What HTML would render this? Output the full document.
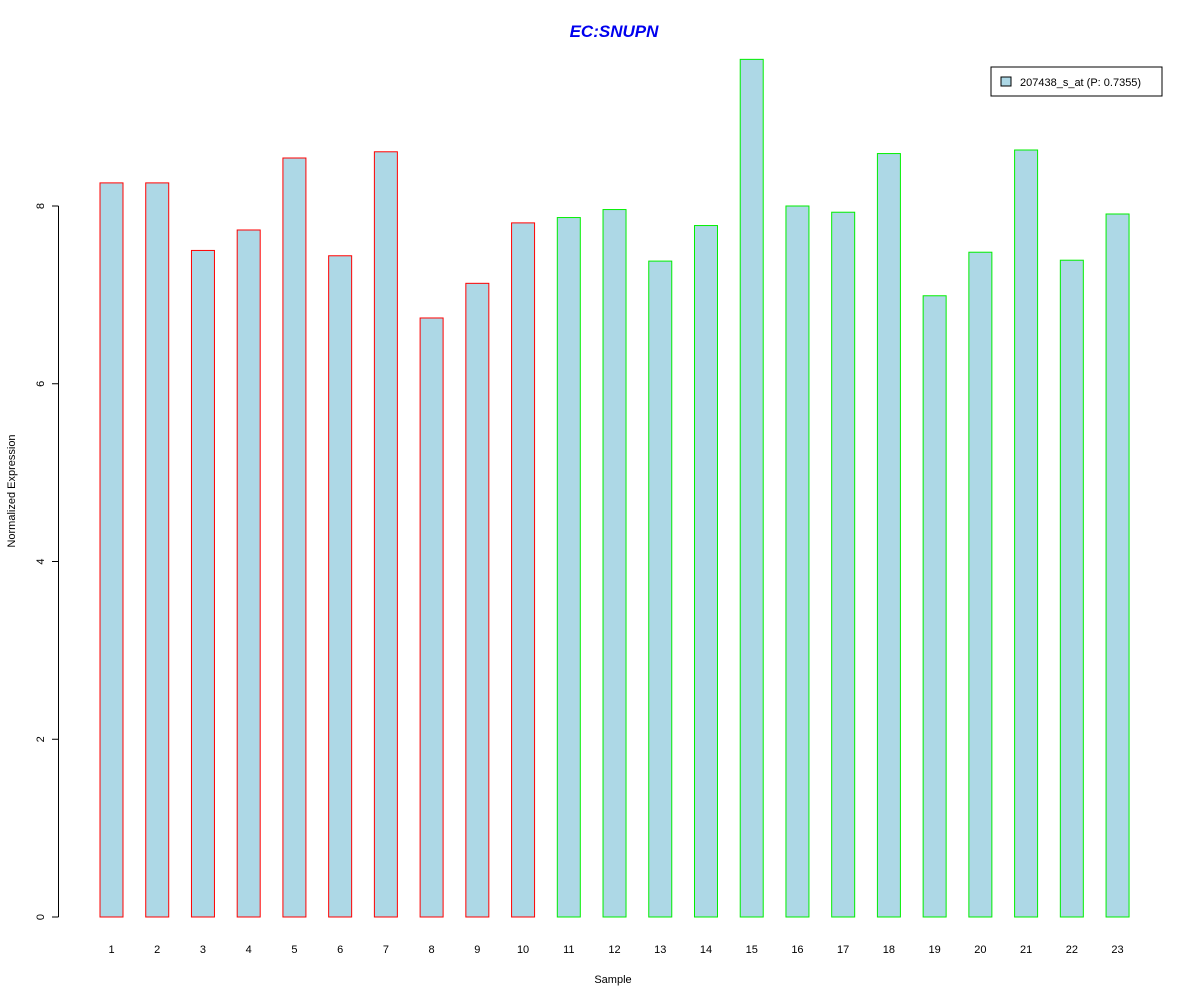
<!DOCTYPE html>
<html><head><meta charset="utf-8"><style>
body{margin:0;background:#fff;font-family:"Liberation Sans",Arial,sans-serif}
svg text{font-family:"Liberation Sans",Arial,sans-serif}
</style></head><body>
<svg id="chart" width="1200" height="1000" xmlns="http://www.w3.org/2000/svg">
<rect width="1200" height="1000" fill="#fff"/>
<text x="614" y="37" text-anchor="middle" font-size="17" font-weight="bold" font-style="italic" fill="#0000ee">EC:SNUPN</text>
<g id="bars"></g>
<g id="yaxis"></g>
<g id="xlabels"></g>
<text x="613" y="983" text-anchor="middle" font-size="11">Sample</text>
<text transform="translate(15,491) rotate(-90)" text-anchor="middle" font-size="11">Normalized Expression</text>
<g>
<rect x="991" y="67" width="171" height="29" fill="#fff" stroke="#000"/>
<rect x="1001" y="77" width="10" height="9" fill="#add8e6" stroke="#000"/>
<text x="1020" y="86" font-size="11">207438_s_at (P: 0.7355)</text>
</g>
</svg>
<script>
const categories=["1","2","3","4","5","6","7","8","9","10","11","12","13","14","15","16","17","18","19","20","21","22","23"];
const values=[8.26,8.26,7.50,7.73,8.54,7.44,8.61,6.74,7.13,7.81,7.87,7.96,7.38,7.78,9.65,8.00,7.93,8.59,6.99,7.48,8.63,7.39,7.91];
const groups=["a","a","a","a","a","a","a","a","a","a","b","b","b","b","b","b","b","b","b","b","b","b","b"];
const yTicks=[0,2,4,6,8];
const NS="http://www.w3.org/2000/svg";
function y(v){return 917-v*88.875;}
function xc(i){return 111.5+i*45.73;}
const bars=document.getElementById('bars');
values.forEach((v,i)=>{
  const r=document.createElementNS(NS,'rect');
  r.setAttribute('x',xc(i)-11.5);r.setAttribute('y',y(v));
  r.setAttribute('width',23);r.setAttribute('height',y(0)-y(v));
  r.setAttribute('fill','#add8e6');
  r.setAttribute('stroke',groups[i]==='a'?'#ff0000':'#00ee00');
  
  
  bars.appendChild(r);
  const t=document.createElementNS(NS,'text');
  t.setAttribute('x',xc(i));t.setAttribute('y',953);
  t.setAttribute('text-anchor','middle');t.setAttribute('font-size','11');
  t.textContent=categories[i];
  
  
  document.getElementById('xlabels').appendChild(t);
});
const ya=document.getElementById('yaxis');
const al=document.createElementNS(NS,'line');
al.setAttribute('x1',58.5);al.setAttribute('x2',58.5);al.setAttribute('y1',y(0));al.setAttribute('y2',y(8));al.setAttribute('stroke','#000');


ya.appendChild(al);
yTicks.forEach(v=>{
  const l=document.createElementNS(NS,'line');
  l.setAttribute('x1',52);l.setAttribute('x2',58.5);l.setAttribute('y1',y(v));l.setAttribute('y2',y(v));l.setAttribute('stroke','#000');
  
  
  ya.appendChild(l);
  const t=document.createElementNS(NS,'text');
  t.setAttribute('transform','translate(44,'+y(v)+') rotate(-90)');
  t.setAttribute('text-anchor','middle');t.setAttribute('font-size','11');
  t.textContent=v;
  
  
  ya.appendChild(t);
});
</script>
</body></html>
